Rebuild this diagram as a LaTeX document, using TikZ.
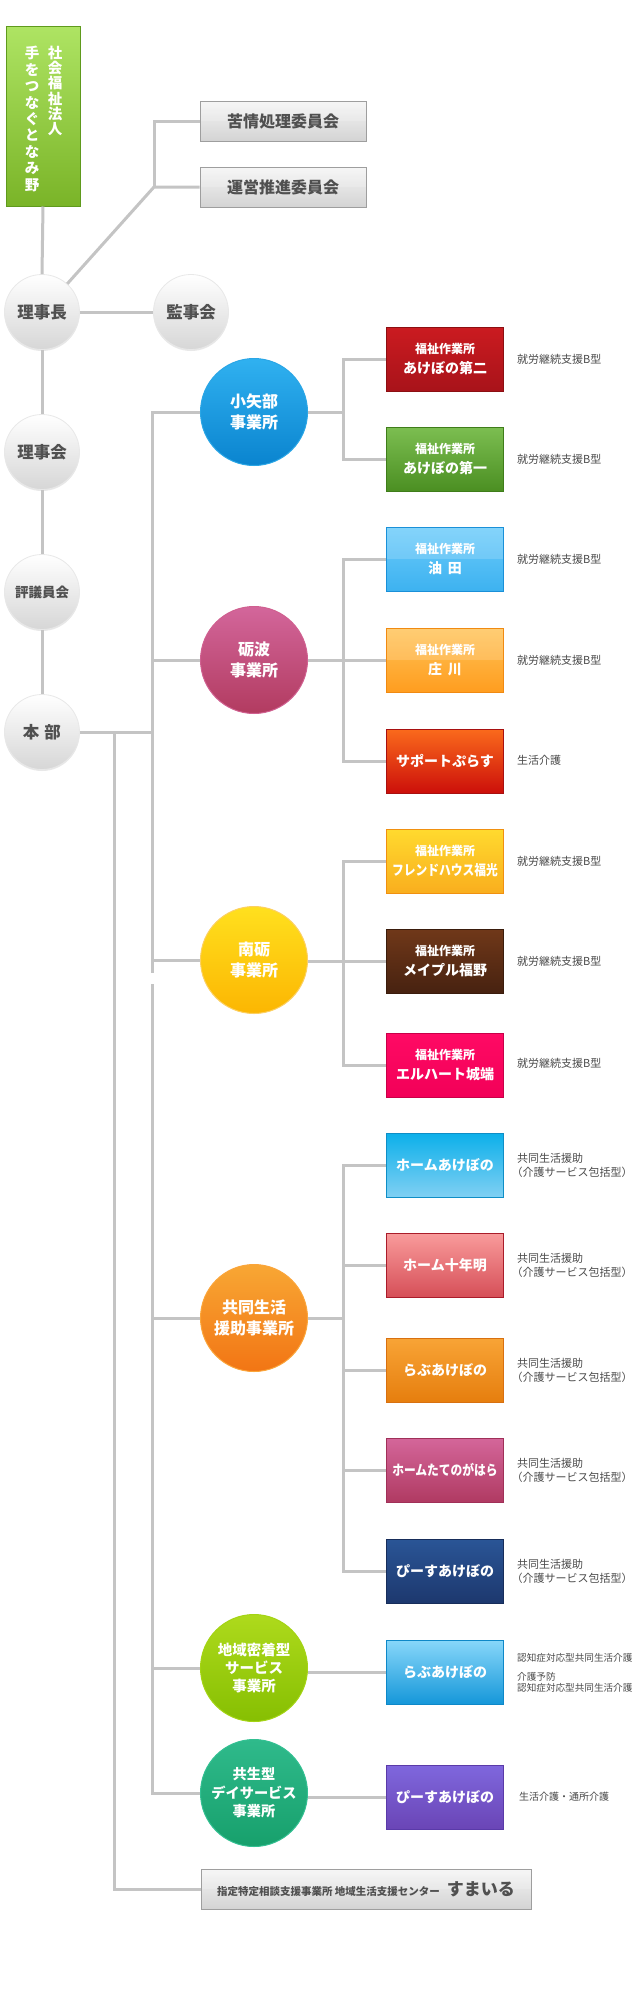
\documentclass[tikz,border=0pt]{standalone}
\usepackage{fontspec}
\setmainfont{Noto Sans CJK JP}
\usetikzlibrary{shadows}
\newcommand{\myfs}[2]{\fontsize{#1}{#2}\selectfont}
\newcommand{\dc}[2]{\definecolor{#1}{HTML}{#2}}
\dc{lineg}{C4C4C4}
\dc{grayT}{505050}
\dc{labT}{4A4A4A}
% green box
\dc{hjT}{AEE463}\dc{hjB}{7AB428}\dc{hjD}{5F9A1D}
% circles
\dc{c1T}{30B1F0}\dc{c1B}{0A84CF}\dc{c1D}{2AA6E6}
\dc{c2T}{D3669B}\dc{c2B}{B23B60}\dc{c2D}{D06090}
\dc{c3T}{FFE01E}\dc{c3B}{FCB602}\dc{c3D}{FCD062}
\dc{c4T}{F8A734}\dc{c4B}{F27514}\dc{c4D}{FBA53A}
\dc{c5T}{AEDA1C}\dc{c5B}{86BF02}\dc{c5D}{A4D414}
\dc{c6T}{2FBA8B}\dc{c6B}{17A06C}\dc{c6D}{33C092}
% boxes
\dc{b11T}{CB1B20}\dc{b11B}{A8131A}\dc{b11D}{8C0F12}
\dc{b12T}{7CBE51}\dc{b12B}{4B8F22}\dc{b12D}{3F7D1A}
\dc{b21T}{6DCCFB}\dc{b21B}{3DB2F0}\dc{b21D}{1A90D8}
\dc{b22T}{FFC459}\dc{b22B}{FF9D1F}\dc{b22D}{F08A12}
\dc{b23T}{FA6A1C}\dc{b23B}{CC0F0A}\dc{b23D}{A81010}
\dc{b31T}{FFDA2E}\dc{b31B}{F9AE1E}\dc{b31D}{F09010}
\dc{b32T}{703819}\dc{b32B}{472210}\dc{b32D}{3A1C0C}
\dc{b33T}{FF0A64}\dc{b33B}{F20058}\dc{b33D}{C80048}
\dc{b41T}{0CB0EA}\dc{b41B}{80D0F3}\dc{b41D}{0F8EC6}
\dc{b42T}{F99B9B}\dc{b42B}{D64F58}\dc{b42D}{AA1C2A}
\dc{b43T}{F8A436}\dc{b43B}{E67E0E}\dc{b43D}{D87010}
\dc{b44T}{D4669A}\dc{b44B}{B03A62}\dc{b44D}{A03058}
\dc{b45T}{2A5596}\dc{b45B}{1D386E}\dc{b45D}{172D5A}
\dc{b51T}{88D7FA}\dc{b51B}{1597D9}\dc{b51D}{0E88C8}
\dc{b61T}{7F67DD}\dc{b61B}{6A45B6}\dc{b61D}{5A3AA8}
\tikzset{
  conn/.style={draw=lineg, line width=3pt},
  gloss/.style={path picture={\fill[white,opacity=0.16] (path picture bounding box.north west) rectangle (path picture bounding box.east);}},
  gcirc/.style={circle, minimum size=75pt, inner sep=0pt, top color=white, bottom color=black!16, draw=black!9, line width=0.8pt,
    drop shadow={opacity=0.18, shadow xshift=0pt, shadow yshift=-1.5pt}, text=grayT, font=\bfseries\myfs{16.5}{18}},
  ccirc/.style={circle, minimum size=107pt, inner sep=0pt, text=white, align=center, line width=1pt, font=\bfseries\myfs{16}{21},
    top color=#1T, bottom color=#1B, draw=#1D},
  gbox/.style={rectangle, minimum width=166pt, minimum height=40pt, inner sep=0pt, top color=black!4, bottom color=black!17, draw=black!38, line width=1pt, gloss, text=grayT, font=\bfseries\myfs{16}{18}},
  obox/.style={rectangle, minimum width=117pt, minimum height=64pt, inner sep=0pt, text=white, align=center, line width=1pt, font=\bfseries\myfs{14}{20},
    top color=#1T, bottom color=#1B, draw=#1D},
  lab/.style={anchor=west, inner sep=0pt, text=labT, align=left, font=\myfs{11}{14}},
  vtext/.style={inner sep=0pt, text=white, align=center},
}
\newcommand{\fuku}{{\myfs{12}{20}福祉作業所}}
\newcommand{\kyodo}{共同生活援助\\\hspace*{-5.5pt}（介護サービス包括型）}
\begin{document}
\begin{tikzpicture}[x=1pt,y=-1pt]
\useasboundingbox[fill=white] (0,0) rectangle (636,2000);

% ---------- coordinates for bus lines ----------
\coordinate (tA) at (152,0);
\coordinate (tB) at (114,0);
\coordinate (bx) at (343,0);
\coordinate (gapT) at (152,973);
\coordinate (gapB) at (152,984);
\coordinate (jc) at (154,187);

% ---------- left column ----------
\node[rectangle, minimum width=74pt, minimum height=180pt, inner sep=0pt, top color=hjT, bottom color=hjB, draw=hjD, line width=1pt] (hojin) at (43,116) {};
\node[vtext, font=\bfseries\myfs{14.5}{15.3}] (hojinA) at (55,91) {社\\会\\福\\祉\\法\\人};
\node[vtext, font=\bfseries\myfs{14.5}{16.4}] (hojinB) at (32,119) {手\\を\\つ\\な\\ぐ\\と\\な\\み\\野};

\node[gbox] (kujo) at (283,121) {苦情処理委員会};
\node[gbox] (unei) at (283,187) {運営推進委員会};

\node[gcirc] (rijicho) at (42,312) {理事長};
\node[gcirc] (kanji) at (191,312) {監事会};
\node[gcirc] (rijikai) at (42,452) {理事会};
\node[gcirc, font=\bfseries\myfs{13.5}{16}] (hyogi) at (42,592) {評議員会};
\node[gcirc] (honbu) at (42,732) {本\hspace{5pt}部};

% ---------- offices (circles) ----------
\node[ccirc=c1] (c1) at (254,412) {小矢部\\事業所};
\node[ccirc=c2] (c2) at (254,660) {砺波\\事業所};
\node[ccirc=c3] (c3) at (254,960) {南砺\\事業所};
\node[ccirc=c4] (c4) at (254,1318) {共同生活\\援助事業所};
\node[ccirc=c5, font=\bfseries\myfs{14.5}{18}] (c5) at (254,1668) {地域密着型\\サービス\\事業所};
\node[ccirc=c6, font=\bfseries\myfs{14.2}{18.5}] (c6) at (254,1793) {共生型\\デイサービス\\事業所};

% ---------- facility boxes ----------
\node[obox=b11] (b11) at (445,359) {\fuku\\あけぼの第二};
\node[obox=b12] (b12) at (445,459) {\fuku\\あけぼの第一};
\node[obox=b21, gloss] (b21) at (445,559) {\fuku\\油\hspace{6pt}田};
\node[obox=b22, gloss] (b22) at (445,660) {\fuku\\庄\hspace{6pt}川};
\node[obox=b23] (b23) at (445,761) {サポートぷらす};
\node[obox=b31] (b31) at (445,861) {\fuku\\\scalebox{0.84}[1]{フレンドハウス福光}};
\node[obox=b32] (b32) at (445,961) {\fuku\\メイプル福野};
\node[obox=b33] (b33) at (445,1065) {\fuku\\エルハート城端};
\node[obox=b41] (b41) at (445,1165) {ホームあけぼの};
\node[obox=b42] (b42) at (445,1265) {ホーム十年明};
\node[obox=b43] (b43) at (445,1370) {らぶあけぼの};
\node[obox=b44] (b44) at (445,1470) {\scalebox{0.84}[1]{ホームたてのがはら}};
\node[obox=b45] (b45) at (445,1571) {ぴーすあけぼの};
\node[obox=b51] (b51) at (445,1672) {らぶあけぼの};
\node[obox=b61] (b61) at (445,1797) {ぴーすあけぼの};

\node[gbox, minimum width=330pt] (sumairu) at (366,1889) {{\myfs{10.5}{12}指定特定相談支援事業所 地域生活支援センター}\hspace{7pt}{\myfs{17}{20}すまいる}};

% ---------- labels ----------
\node[lab] (l11) at (517,359) {就労継続支援B型};
\node[lab] (l12) at (517,459) {就労継続支援B型};
\node[lab] (l21) at (517,559) {就労継続支援B型};
\node[lab] (l22) at (517,660) {就労継続支援B型};
\node[lab] (l23) at (517,760) {生活介護};
\node[lab] (l31) at (517,861) {就労継続支援B型};
\node[lab] (l32) at (517,961) {就労継続支援B型};
\node[lab] (l33) at (517,1063) {就労継続支援B型};
\node[lab] (l41) at (517,1165) {\kyodo};
\node[lab] (l42) at (517,1265) {\kyodo};
\node[lab] (l43) at (517,1370) {\kyodo};
\node[lab] (l44) at (517,1470) {\kyodo};
\node[lab] (l45) at (517,1571) {\kyodo};
\node[lab, font=\myfs{9.6}{11}] (l51) at (517,1673) {認知症対応型共同生活介護\\[8pt]介護予防\\認知症対応型共同生活介護};
\node[lab, font=\myfs{10}{12}] (l61) at (519,1797) {生活介護・通所介護};

% ---------- connectors ----------
\draw[conn] (hojin.south) -- (rijicho.north);
\draw[conn] (rijicho) -- (rijikai);
\draw[conn] (rijikai) -- (hyogi);
\draw[conn] (hyogi) -- (honbu);
\draw[conn] (rijicho) -- (kanji);
\draw[conn] (rijicho) -- (jc) -- (unei.west);
\draw[conn] (jc) |- (kujo.west);

\draw[conn] (honbu.east) -- (honbu.east -| tA) |- (c1.west);
\draw[conn] (tA |- c1) -- (gapT);
\draw[conn] (gapB) |- (c6.west);
\draw[conn] (tA |- c2) -- (c2.west);
\draw[conn] (tA |- c3) -- (c3.west);
\draw[conn] (tA |- c4) -- (c4.west);
\draw[conn] (tA |- c5) -- (c5.west);
\draw[conn] (honbu.east -| tB) |- (sumairu.west);

\draw[conn] (c1.east) -- (c1.east -| bx);
\draw[conn] (b11.west) -| (bx |- c1) |- (b12.west);
\draw[conn] (c2.east) -- (b22.west);
\draw[conn] (b21.west) -| (bx |- c2) |- (b23.west);
\draw[conn] (c3.east |- b32.west) -- (b32.west);
\draw[conn] (b31.west) -| (bx |- b32) |- (b33.west);
\draw[conn] (c4.east) -- (c4.east -| bx);
\draw[conn] (b41.west) -| (bx |- b45) -- (b45.west);
\draw[conn] (bx |- b42) -- (b42.west);
\draw[conn] (bx |- b43) -- (b43.west);
\draw[conn] (bx |- b44) -- (b44.west);
\draw[conn] (c5.east |- b51.west) -- (b51.west);
\draw[conn] (c6.east |- b61.west) -- (b61.west);
\end{tikzpicture}
\end{document}
